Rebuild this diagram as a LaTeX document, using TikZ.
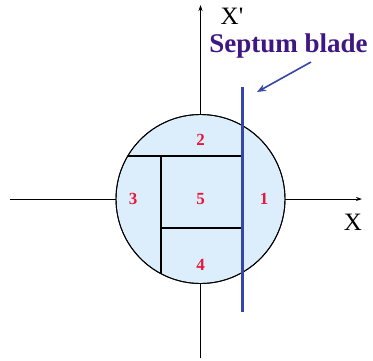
\documentclass[tikz,border=0pt]{standalone}
\usepackage{fontspec}
\setmainfont{Liberation Serif}
\usetikzlibrary{arrows.meta}
\definecolor{fillblue}{HTML}{DCEEFB}
\definecolor{bladeblue}{HTML}{3545A8}
\definecolor{labred}{HTML}{E8173A}
\definecolor{purp}{HTML}{3F1784}
\begin{document}
\begin{tikzpicture}[x=1pt,y=-1pt,
  axis/.style={line width=0.9pt,-{Stealth[length=6pt,width=4pt]}},
  part/.style={line width=1.3pt},
  num/.style={text=labred,font=\fontsize{17}{17}\selectfont\bfseries,inner sep=0pt},
  axlab/.style={font=\fontsize{25}{25}\selectfont,inner sep=0pt}]
\useasboundingbox (0,0) rectangle (373,360);
\coordinate (xl) at (10,199);
\coordinate (xr) at (362,199);
\coordinate (yb) at (200.5,358);
\coordinate (yt) at (200.5,5);
\draw[axis] (xl) -- (xr);
\draw[axis] (yb) -- (yt);
\node[circle,draw,line width=0.9pt,fill=fillblue,minimum size=169pt,inner sep=0pt] (c) at (200.5,199) {};
\begin{scope}
\clip (200.5,199) circle (84.5);
\draw[part] (242.5,100) -- (242.5,300);
\draw[part] (100,156) -- (242.5,156);
\draw[part] (161,156) -- (161,300);
\draw[part] (161,228) -- (242.5,228);
\end{scope}
\draw[line width=0.9pt] (200.5,199) circle (84.5);
\coordinate (bt) at (242.5,87);
\coordinate (bb) at (242.5,312);
\draw[bladeblue,line width=2.6pt] (bt) -- (bb);
\node[num] (n2) at (200.5,140) {2};
\node[num] (n3) at (133,199) {3};
\node[num] (n5) at (200.5,199) {5};
\node[num] (n1) at (264,199) {1};
\node[num] (n4) at (200.5,265) {4};
\node[axlab] (xp) at (232,16) {X\textquotesingle};
\node[axlab] (x) at (353,222) {X};
\node[text=purp,font=\fontsize{27}{27}\selectfont\bfseries,inner sep=0pt] (sb) at (288.5,46) {Septum blade};
\coordinate (as) at (311,62);
\coordinate (ae) at (257,92);
\draw[bladeblue,line width=1.6pt,-{Stealth[length=9pt,width=7pt]}] (as) -- (ae);
\end{tikzpicture}
\end{document}
